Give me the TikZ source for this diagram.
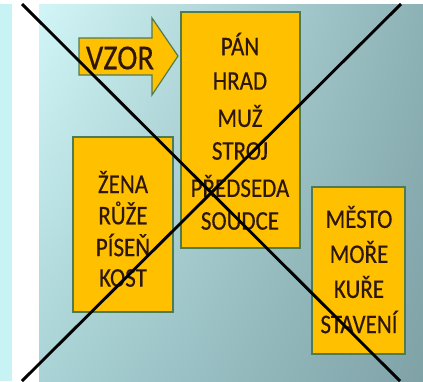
\documentclass[tikz,border=0pt]{standalone}
\usepackage{fontspec}
\setmainfont{Carlito}
\usetikzlibrary{shadings}
\definecolor{boxfill}{HTML}{FFC000}
\definecolor{boxline}{HTML}{4E7B52}
\definecolor{txt}{HTML}{2E1608}
\definecolor{bgA}{HTML}{D2F6F7}
\definecolor{bgB}{HTML}{8DB2B6}
\definecolor{bgC}{HTML}{A9D3D6}
\definecolor{bgD}{HTML}{7FA2A7}
\definecolor{strip}{HTML}{C8F3F4}
\newcommand{\tallline}[1]{\scalebox{1}[1.17]{#1}}
\tikzset{
  wordbox/.style={draw=boxline, line width=1.2pt, fill=boxfill, inner sep=0pt},
  wordline/.style={text=txt, font=\fontsize{23}{27}\selectfont\addfontfeature{FakeBold=0.4}, inner sep=0pt, anchor=center},
  crossline/.style={line width=2.9pt, black},
}
\begin{document}
\begin{tikzpicture}[x=1pt,y=-1pt]
\useasboundingbox (0,0) rectangle (423,381);
\fill[white] (0,0) rectangle (423,381);
\fill[strip] (0,4) rectangle (12,381);
\shade[upper left=bgA, upper right=bgB, lower left=bgC, lower right=bgD] (39,4) rectangle (423,381);
% arrow VZOR
\draw[boxline, line width=1.2pt, fill=boxfill] (79,38) -- (152,38) -- (152,18) -- (178,56) -- (152,95) -- (152,75) -- (79,75) -- cycle;
\node[text=txt, font=\fontsize{30.5}{34}\selectfont\addfontfeature{FakeBold=0.4}, inner sep=0pt] (vzor) at (120,58) {\scalebox{1}[1.15]{VZOR}};
% boxes
\node[wordbox, minimum width=119pt, minimum height=236pt] (center) at (240.5,130) {};
\node[wordbox, minimum width=100pt, minimum height=175pt] (left) at (123,224.5) {};
\node[wordbox, minimum width=93pt, minimum height=167pt] (right) at (358.5,270.5) {};
% center words
\node[wordline] (w1) at (240,44) {\tallline{PÁN}};
\node[wordline] (w2) at (240,81) {\tallline{HRAD}};
\node[wordline] (w3) at (240,116) {\tallline{MUŽ}};
\node[wordline] (w4) at (240,151) {\tallline{STROJ}};
\node[wordline] (w5) at (240,186) {\tallline{PŘEDSEDA}};
\node[wordline] (w6) at (240,221) {\tallline{SOUDCE}};
% left words
\node[wordline] (l1) at (123,182) {\tallline{ŽENA}};
\node[wordline] (l2) at (123,213) {\tallline{RŮŽE}};
\node[wordline] (l3) at (123,245) {\tallline{PÍSEŇ}};
\node[wordline] (l4) at (123,278) {\tallline{KOST}};
% right words
\node[wordline] (r1) at (359,217) {\tallline{MĚSTO}};
\node[wordline] (r2) at (359,252) {\tallline{MOŘE}};
\node[wordline] (r3) at (359,287) {\tallline{KUŘE}};
\node[wordline] (r4) at (359,322) {\tallline{STAVENÍ}};
% cross
\coordinate (c1) at (22,4);
\coordinate (c2) at (400,381);
\coordinate (c3) at (401,4);
\coordinate (c4) at (22,381);
\draw[crossline] (c1) -- (c2);
\draw[crossline] (c3) -- (c4);
\end{tikzpicture}
\end{document}
